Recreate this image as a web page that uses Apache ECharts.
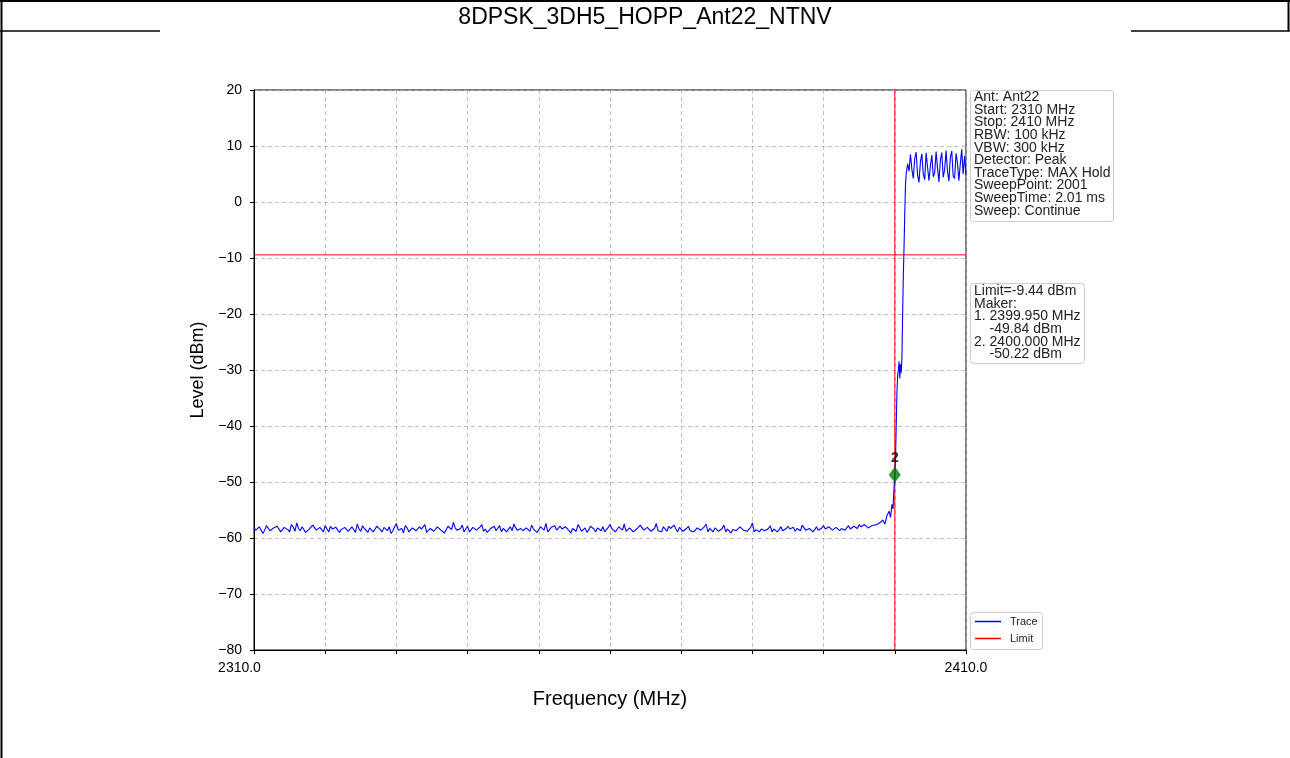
<!DOCTYPE html>
<html>
<head>
<meta charset="utf-8">
<script src="https://cdn.jsdelivr.net/npm/echarts@6/dist/echarts.min.js"></script>
<style>
html,body{margin:0;padding:0;background:#fff;}
#c{width:1290px;height:758px;}
</style>
</head>
<body>
<div id="c"></div>
<script>
// ---- data ----
const titleText = '8DPSK_3DH5_HOPP_Ant22_NTNV';
const xMin = 2310, xMax = 2410, xInterval = 10;
const yMin = -80, yMax = 20, yInterval = 10;
const limitLevel = -9.44;
const markerFreq = 2400.0;
const markerLevel = -48.7;
const markerLabel = '2';

// noise floor, 2310 .. 2397 MHz every 0.5 MHz
const noiseStart = 2310, noiseStep = 0.5;
const noiseLevels = [
-58.2,-58.9,-57.9,-58.6,-58.1,-59.0,-58.4,-57.6,-58.8,-58.3,-58.9,-58.0,-57.3,-58.7,-58.2,-59.1,-58.5,-58.0,-58.8,-58.3,-57.8,-58.9,-58.4,-58.1,-59.0,
-58.5,-57.9,-58.7,-58.2,-57.5,-58.8,-58.3,-59.0,-58.1,-58.6,-57.7,-58.9,-58.3,-58.0,-58.7,-57.4,-58.5,-59.1,-58.2,-58.6,-57.9,-58.8,-58.4,-57.6,-58.9,
-58.2,-58.7,-57.8,-58.4,-59.0,-58.1,-57.2,-58.6,-58.3,-58.9,-57.9,-58.5,-58.1,-58.8,-57.6,-58.4,-59.0,-58.2,-58.7,-57.8,-58.3,-58.9,-58.0,-57.5,-58.6,
-58.3,-58.9,-58.1,-57.7,-58.5,-59.0,-58.2,-57.4,-58.8,-58.3,-58.6,-57.9,-58.7,-58.1,-59.1,-58.4,-57.6,-58.8,-58.2,-58.6,-57.8,-58.9,-58.3,-58.0,-58.7,
-57.6,-58.4,-58.9,-58.1,-57.5,-58.7,-58.3,-59.0,-58.2,-57.8,-58.6,-58.1,-58.9,-57.4,-58.5,-58.0,-58.8,-58.3,-57.7,-58.9,-58.2,-58.6,-57.9,-58.4,-59.0,
-58.1,-58.7,-57.5,-58.3,-58.9,-58.0,-58.6,-57.7,-58.4,-59.1,-58.2,-58.8,-57.9,-58.3,-58.7,-57.3,-58.5,-58.9,-58.1,-58.6,-57.8,-58.4,-58.9,-58.0,-58.6,
-57.9,-58.5,-58.8,-58.2,-57.7,-58.6,-58.3,-58.9,-58.0,-58.4,-57.8,-58.7,-58.2,-58.5,-57.9,-58.3,-58.6,-57.8,-58.2,-58.0,-57.6,-58.1,-57.7,-57.9,-57.5
];
// noise floor between those points, 2310.25 .. 2396.75 MHz every 0.5 MHz
const noiseMidStart = 2310.25;
const noiseMidLevels = [
-58.6,-58.0,-59.2,-57.8,-58.7,-58.2,-57.9,-58.9,-58.1,-58.5,-57.6,-58.8,-58.3,-58.0,-59.0,-58.4,-57.7,-58.6,-58.1,-58.9,-58.4,-57.9,-58.7,-58.3,-58.5,
-58.1,-58.8,-58.0,-59.0,-58.4,-57.8,-58.6,-58.2,-58.9,-57.9,-58.5,-58.1,-58.7,-59.2,-58.0,-58.6,-58.3,-57.8,-58.9,-58.2,-58.7,-58.0,-58.5,-59.0,-58.3,
-58.8,-58.0,-58.6,-59.1,-57.9,-58.5,-58.2,-58.8,-57.7,-58.4,-58.9,-58.1,-58.6,-58.0,-58.8,-59.0,-58.3,-57.9,-58.5,-58.9,-58.1,-58.4,-58.7,-58.2,-58.9,
-58.7,-58.2,-58.8,-58.4,-59.0,-58.0,-58.6,-58.9,-58.1,-57.8,-58.9,-58.4,-58.0,-58.7,-58.3,-58.8,-58.1,-58.5,-59.0,-57.9,-58.4,-58.2,-58.7,-58.9,-58.1,
-58.3,-58.9,-58.0,-58.6,-58.8,-58.2,-58.9,-58.4,-57.7,-58.6,-58.1,-58.8,-58.3,-58.7,-58.9,-58.2,-57.9,-58.6,-58.4,-58.1,-58.8,-58.3,-58.7,-58.9,-58.2,
-58.6,-58.0,-58.9,-58.6,-58.2,-58.8,-58.3,-58.9,-58.1,-58.5,-58.7,-58.0,-58.6,-58.8,-58.1,-58.9,-58.2,-58.4,-58.7,-58.3,-58.9,-58.1,-58.5,-58.7,-58.3,
-58.4,-58.1,-58.3,-58.7,-58.2,-58.8,-58.0,-58.5,-58.6,-58.2,-58.4,-58.0,-58.6,-58.1,-58.7,-58.0,-58.2,-58.4,-57.9,-58.3,-58.0,-57.6,-58.2,-57.8
];

// band edge
const edgeFreq  = [2397.5,2398.0,2398.3,2398.6,2398.9,2399.2,2399.4,2399.6,2399.75,2399.85,2399.95,2400.0,2400.1,2400.2,2400.3,2400.4,2400.5,2400.6,2400.7,2400.8,2400.9,2401.0,2401.1,2401.2,2401.3,2401.4,2401.5];
const edgeLevel = [-57.6,-57.2,-56.8,-57.5,-56.0,-55.2,-56.3,-54.0,-54.8,-52.0,-49.8,-50.2,-46.0,-40.0,-34.0,-31.0,-30.0,-28.5,-31.5,-29.0,-30.5,-28.0,-20.0,-13.0,-8.0,-2.0,3.0];

// in-band, 2401.6 .. 2410 MHz every 0.2 MHz
const bandStart = 2401.6, bandStep = 0.2;
const bandLevels = [5.0,6.8,5.5,8.5,5.8,4.2,7.8,8.9,4.8,3.5,7.2,8.6,5.0,4.0,8.8,6.2,3.8,6.5,8.4,4.5,5.2,9.0,6.0,3.6,7.5,8.8,4.4,5.8,9.2,5.5,3.7,8.0,9.1,4.6,4.2,8.7,7.0,3.8,6.8,9.4,5.0,8.2,4.8];

const infoLines = ['Ant: Ant22','Start: 2310 MHz','Stop: 2410 MHz','RBW: 100 kHz','VBW: 300 kHz','Detector: Peak','TraceType: MAX Hold','SweepPoint: 2001','SweepTime: 2.01 ms','Sweep: Continue'];
const limitLines = ['Limit=-9.44 dBm','Maker:','1. 2399.950 MHz','    -49.84 dBm','2. 2400.000 MHz','    -50.22 dBm'];
const legendNames = ['Trace','Limit'];

// ---- build ----
const trace = [];
noiseLevels.forEach((v,i)=>{
  trace.push([+(noiseStart+i*noiseStep).toFixed(2), v]);
  if (i < noiseMidLevels.length) trace.push([+(noiseMidStart+i*noiseStep).toFixed(2), noiseMidLevels[i]]);
});
edgeFreq.forEach((f,i)=>trace.push([f, edgeLevel[i]]));
bandLevels.forEach((v,i)=>trace.push([+(bandStart+i*bandStep).toFixed(2), v]));

const FONT = '"Liberation Sans", Arial, sans-serif';
const fmtMinus = v => (v < 0 ? '\u2212' + Math.abs(v) : String(v));

const chart = echarts.init(document.getElementById('c'), null, {renderer:'canvas'});
const option = {
  animation: false,
  backgroundColor: '#fff',
  grid: {left:254, top:90, width:712, height:560, show:true, borderColor:'#000', borderWidth:1, containLabel:false},
  xAxis: {
    type:'value', min:xMin, max:xMax, interval:xInterval,
    name:'Frequency (MHz)', nameLocation:'middle', nameGap:39,
    nameTextStyle:{fontFamily:FONT, fontSize:20, color:'#000'},
    axisLine:{show:true, onZero:false, lineStyle:{color:'#000', width:1}},
    axisTick:{show:true, length:4, lineStyle:{color:'#000'}},
    axisLabel:{fontFamily:FONT, fontSize:14, color:'#000', margin:11,
      formatter: v => v===xMin ? '{a|'+v.toFixed(1)+'}' : (v===xMax ? v.toFixed(1) : ''),
      rich:{a:{fontFamily:FONT, fontSize:14, color:'#000', padding:[0,29,0,0]}}},
    splitLine:{show:true, lineStyle:{color:'#b0b0b0', type:[4,3], width:0.8}}
  },
  yAxis: {
    type:'value', min:yMin, max:yMax, interval:yInterval,
    name:'Level (dBm)', nameLocation:'middle', nameGap:47, nameRotate:90,
    nameTextStyle:{fontFamily:FONT, fontSize:18, color:'#000'},
    axisLine:{show:true, onZero:false, lineStyle:{color:'#000', width:1}},
    axisTick:{show:true, length:4, lineStyle:{color:'#000'}},
    axisLabel:{fontFamily:FONT, fontSize:14, color:'#000', margin:12, formatter: fmtMinus},
    splitLine:{show:true, lineStyle:{color:'#b0b0b0', type:[4,3], width:0.8}}
  },
  series: [
    {
      name:'Trace', type:'line', data:trace, showSymbol:false, symbol:'none',
      lineStyle:{color:'#0000ff', width:1.1}, z:3
    },
    {
      name:'Limit', type:'line', data:[[xMin,limitLevel],[xMax,limitLevel]], showSymbol:false, symbol:'none',
      lineStyle:{color:'#ff0000', width:1}, z:2
    },
    {
      name:'MarkerLine', type:'line', data:[[markerFreq,yMin],[markerFreq,yMax]], showSymbol:false, symbol:'none',
      lineStyle:{color:'#ff0000', width:1}, z:2
    },
    {
      name:'Marker', type:'scatter', data:[[markerFreq, markerLevel]], symbol:'diamond', symbolSize:[12,16],
      itemStyle:{color:'#008000'}, z:5,
      label:{show:true, formatter:markerLabel, position:'top', distance:2, fontFamily:FONT, fontSize:14, fontWeight:'bold', color:'#000'}
    }
  ],
  graphic: [
    // outer page frame
    {type:'line', shape:{x1:0,y1:1,x2:1290,y2:1}, style:{stroke:'#000', lineWidth:2}},
    {type:'line', shape:{x1:1.5,y1:0,x2:1.5,y2:758}, style:{stroke:'#000', lineWidth:2}},
    {type:'line', shape:{x1:1288.5,y1:0,x2:1288.5,y2:31}, style:{stroke:'#000', lineWidth:2}},
    {type:'line', shape:{x1:0,y1:31,x2:160,y2:31}, style:{stroke:'#000', lineWidth:1.5}},
    {type:'line', shape:{x1:1131,y1:31,x2:1290,y2:31}, style:{stroke:'#000', lineWidth:1.5}},
    {type:'text', x:645, y:18, style:{text:titleText, font:'23px '+FONT, fill:'#000', textAlign:'center', textVerticalAlign:'middle'}},
    // info box
    {type:'rect', shape:{x:970.5,y:90.5,width:143,height:131,r:3}, style:{fill:'#fff', stroke:'#cccccc', lineWidth:1}},
    {type:'text', x:974, y:91, style:{text:infoLines.join('\n'), font:'14px '+FONT, fill:'#222', lineHeight:12.6}},
    // limit/marker box
    {type:'rect', shape:{x:970.5,y:283.5,width:114,height:80,r:3}, style:{fill:'#fff', stroke:'#cccccc', lineWidth:1}},
    {type:'text', x:974, y:285, style:{text:limitLines.join('\n'), font:'14px '+FONT, fill:'#222', lineHeight:12.6}},
    // legend box
    {type:'rect', shape:{x:970.5,y:612.5,width:72,height:37,r:3}, style:{fill:'#fff', stroke:'#cccccc', lineWidth:1}},
    {type:'line', shape:{x1:975,y1:621.5,x2:1001,y2:621.5}, style:{stroke:'#0000ff', lineWidth:1.5}},
    {type:'line', shape:{x1:975,y1:638.5,x2:1001,y2:638.5}, style:{stroke:'#ff0000', lineWidth:1.5}},
    {type:'text', x:1010, y:621.5, style:{text:legendNames[0], font:'11px '+FONT, fill:'#222', textVerticalAlign:'middle'}},
    {type:'text', x:1010, y:638.5, style:{text:legendNames[1], font:'11px '+FONT, fill:'#222', textVerticalAlign:'middle'}}
  ]
};
chart.setOption(option);
</script>
</body>
</html>
